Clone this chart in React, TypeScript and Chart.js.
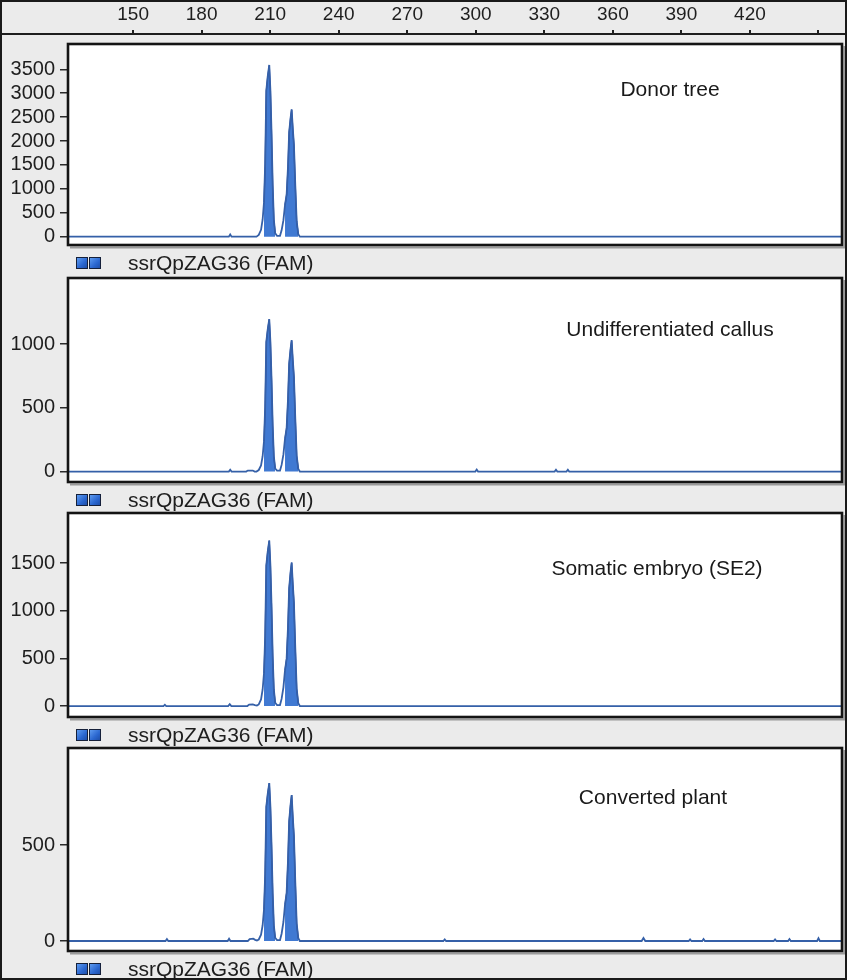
import React, { useEffect, useRef } from "react";
import { Chart, registerables } from "chart.js";

Chart.register(...registerables);

// ---------- data ----------
const markerName = "ssrQpZAG36 (FAM)";
const sizeTicks = [150, 180, 210, 240, 270, 300, 330, 360, 390, 420, 450];
const sizeTickLabels = ["150", "180", "210", "240", "270", "300", "330", "360", "390", "420", ""];
const sampleNames = ["Donor tree", "Undifferentiated callus", "Somatic embryo (SE2)", "Converted plant"];

const donorTicks = [0, 500, 1000, 1500, 2000, 2500, 3000, 3500];
const callusTicks = [0, 500, 1000];
const embryoTicks = [0, 500, 1000, 1500];
const plantTicks = [0, 500];

// called allele peak regions (size, bp)
const peakCores: [number, number][] = [
  [207.3, 212.2],
  [216.5, 222.3],
];

// [size (bp), RFU]
const donorTrace: [number, number][] = [
  [121.5, 0], [191.9, 0], [192.5, 45], [193.1, 0], [204.0, 0], [205.0, 36], [206.0, 144], [206.7, 359],
  [207.3, 718], [207.8, 1508], [208.3, 3052], [208.9, 3340], [209.6, 3590], [210.1, 3050], [210.6, 2154],
  [211.1, 1077], [211.6, 359], [212.2, 72], [213.0, 18], [214.3, 18], [215.0, 133], [215.8, 346], [216.5, 665],
  [217.2, 878], [217.8, 1463], [218.3, 2181], [218.9, 2470], [219.4, 2660], [219.9, 2260], [220.4, 1915],
  [221.0, 1064], [221.6, 319], [222.3, 53], [223.0, 0], [460.3, 0],
];

const callusTrace: [number, number][] = [
  [121.5, 0], [191.9, 0], [192.5, 14], [193.1, 0], [199.5, 0], [200.2, 8], [202.4, 8], [203.2, 0], [204.0, 0],
  [205.0, 12], [206.0, 48], [206.7, 120], [207.3, 239], [207.8, 502], [208.3, 1016], [208.9, 1111], [209.6, 1195],
  [210.1, 1016], [210.6, 717], [211.1, 359], [211.6, 120], [212.2, 24], [213.0, 8], [214.3, 8], [215.0, 52],
  [215.8, 134], [216.5, 258], [217.2, 340], [217.8, 567], [218.3, 845], [218.9, 958], [219.4, 1030], [219.9, 876],
  [220.4, 742], [221.0, 412], [221.6, 124], [222.3, 21], [223.0, 0], [299.8, 0], [300.4, 16], [301.0, 0],
  [334.5, 0], [335.1, 14], [335.7, 0], [339.7, 0], [340.3, 14], [340.9, 0], [460.3, 0],
];

const embryoTrace: [number, number][] = [
  [121.5, 0], [163.3, 0], [163.9, 14], [164.5, 0], [191.6, 0], [192.3, 20], [193.0, 0], [200.0, 0], [200.8, 15],
  [202.4, 18], [203.3, 10], [204.2, 5], [205.0, 17], [206.0, 69], [206.7, 174], [207.3, 347], [207.8, 729],
  [208.3, 1475], [208.9, 1614], [209.6, 1735], [210.1, 1475], [210.6, 1041], [211.1, 521], [211.6, 174],
  [212.2, 35], [213.0, 10], [214.3, 10], [215.0, 75], [215.8, 196], [216.5, 376], [217.2, 497], [217.8, 828],
  [218.3, 1234], [218.9, 1400], [219.4, 1505], [219.9, 1279], [220.4, 1084], [221.0, 602], [221.6, 181],
  [222.3, 30], [223.0, 0], [460.3, 0],
];

const plantTrace: [number, number][] = [
  [121.5, 0], [164.2, 0], [164.8, 10], [165.4, 0], [191.4, 0], [192.0, 12], [192.6, 0], [200.2, 0], [201.0, 10],
  [202.6, 12], [203.4, 6], [204.2, 3], [205.0, 8], [206.0, 33], [206.7, 82], [207.3, 164], [207.8, 345],
  [208.3, 699], [208.9, 764], [209.6, 822], [210.1, 699], [210.6, 493], [211.1, 247], [211.6, 82], [212.2, 16],
  [213.0, 5], [214.3, 5], [215.0, 38], [215.8, 99], [216.5, 190], [217.2, 251], [217.8, 418], [218.3, 623],
  [218.9, 707], [219.4, 760], [219.9, 646], [220.4, 547], [221.0, 304], [221.6, 91], [222.3, 15], [223.0, 0],
  [285.8, 0], [286.4, 8], [287.0, 0], [372.6, 0], [373.4, 16], [374.2, 0], [393.2, 0], [393.8, 8], [394.4, 0],
  [399.1, 0], [399.7, 10], [400.3, 0], [430.4, 0], [431.0, 8], [431.6, 0], [436.7, 0], [437.3, 10], [437.9, 0],
  [449.4, 0], [450.0, 14], [450.6, 0], [460.3, 0],
];

// ---------- layout / style ----------
const FONT = "'Liberation Sans', Arial, Helvetica, sans-serif";
const W = 847;
const H = 980;
const X_MIN = 121.5;
const X_MAX = 460.3;
const PLOT_LEFT = 68;
const PLOT_RIGHT = 842;
const PAD = 20;

type PanelDef = {
  name: string;
  trace: [number, number][];
  ticks: number[];
  top: number;
  bottom: number;
  yMin: number;
  yMax: number;
  labelX: number;
  labelY: number;
};

const panels: PanelDef[] = [
  { name: sampleNames[0], trace: donorTrace, ticks: donorTicks, top: 44, bottom: 245, yMin: -174, yMax: 4029, labelX: 670, labelY: 90 },
  { name: sampleNames[1], trace: callusTrace, ticks: callusTicks, top: 278, bottom: 482, yMin: -82, yMax: 1518, labelX: 670, labelY: 330 },
  { name: sampleNames[2], trace: embryoTrace, ticks: embryoTicks, top: 513, bottom: 717, yMin: -115, yMax: 2025, labelX: 657, labelY: 569 },
  { name: sampleNames[3], trace: plantTrace, ticks: plantTicks, top: 748, bottom: 951, yMin: -52, yMax: 1005, labelX: 653, labelY: 798 },
];

const framePlugin = {
  id: "frame",
  beforeDatasetsDraw(chart: any) {
    const { ctx, chartArea: a } = chart;
    ctx.save();
    ctx.fillStyle = "#ffffff";
    ctx.fillRect(a.left, a.top, a.right - a.left, a.bottom - a.top);
    ctx.restore();
  },
  afterDraw(chart: any) {
    const { ctx, chartArea: a } = chart;
    const opts = chart.options.plugins.frame || {};
    ctx.save();
    ctx.strokeStyle = "#9a9a9a";
    ctx.lineWidth = 2;
    ctx.beginPath();
    ctx.moveTo(a.right + 2.5, a.top + 2);
    ctx.lineTo(a.right + 2.5, a.bottom + 2.5);
    ctx.lineTo(a.left + 2, a.bottom + 2.5);
    ctx.stroke();
    ctx.strokeStyle = "#141414";
    ctx.lineWidth = 2.6;
    ctx.strokeRect(a.left, a.top, a.right - a.left, a.bottom - a.top);
    if (opts.text) {
      ctx.fillStyle = "#1a1a1a";
      ctx.font = `21px ${FONT}`;
      ctx.textAlign = "center";
      ctx.textBaseline = "middle";
      ctx.fillText(opts.text, opts.x, opts.y);
    }
    ctx.restore();
  },
};

function Panel({ p }: { p: PanelDef }) {
  const ref = useRef<HTMLCanvasElement>(null);
  const canvasTop = p.top - PAD;
  const canvasH = p.bottom - p.top + 2 * PAD;
  useEffect(() => {
    if (!ref.current) return;
    const inCore = (x: number) => peakCores.some(([a, b]) => x >= a && x <= b);
    const line = p.trace.map(([x, y]) => ({ x, y }));
    const core = p.trace.map(([x, y]) => ({ x, y: inCore(x) ? y : null }));
    const chart = new Chart(ref.current, {
      type: "line",
      data: {
        datasets: [
          {
            data: line as any,
            borderColor: "#3560a8",
            borderWidth: 1.8,
            pointRadius: 0,
            fill: false,
            tension: 0,
            order: 1,
          },
          {
            data: core as any,
            borderColor: "#1f3e9e",
            borderWidth: 1.2,
            backgroundColor: "#4079d2",
            fill: "origin",
            pointRadius: 0,
            tension: 0,
            spanGaps: false,
            order: 2,
          },
        ],
      },
      options: {
        animation: false,
        responsive: false,
        maintainAspectRatio: false,
        events: [],
        layout: { padding: { top: PAD, bottom: PAD, left: 0, right: W - PLOT_RIGHT } },
        plugins: {
          legend: { display: false },
          tooltip: { enabled: false },
          frame: { text: p.name, x: p.labelX, y: p.labelY - canvasTop },
        } as any,
        scales: {
          x: { type: "linear", min: X_MIN, max: X_MAX, display: false },
          y: {
            type: "linear",
            min: p.yMin,
            max: p.yMax,
            afterFit: (s: any) => {
              s.width = PLOT_LEFT;
            },
            afterBuildTicks: (s: any) => {
              s.ticks = p.ticks.map((v) => ({ value: v }));
            },
            ticks: {
              font: { family: FONT, size: 20 },
              color: "#1e1e1e",
              padding: 5,
              callback: (v: any) => String(v),
            },
            grid: { drawOnChartArea: false, tickLength: 8, color: "#2a2a2a", lineWidth: 1.5 },
            border: { display: false },
          },
        },
      },
      plugins: [framePlugin],
    });
    return () => chart.destroy();
  }, []);
  return (
    <canvas
      ref={ref}
      width={W}
      height={canvasH}
      style={{ position: "absolute", left: 0, top: canvasTop, width: W, height: canvasH }}
    />
  );
}

function TopAxis() {
  const ref = useRef<HTMLCanvasElement>(null);
  useEffect(() => {
    if (!ref.current) return;
    const chart = new Chart(ref.current, {
      type: "line",
      data: { datasets: [{ data: [] }] },
      options: {
        animation: false,
        responsive: false,
        maintainAspectRatio: false,
        events: [],
        layout: { padding: { top: 0, bottom: 0, left: PLOT_LEFT, right: W - PLOT_RIGHT } },
        plugins: { legend: { display: false }, tooltip: { enabled: false } },
        scales: {
          x: {
            type: "linear",
            position: "top",
            min: X_MIN,
            max: X_MAX,
            afterFit: (s: any) => {
              s.height = 34;
            },
            afterBuildTicks: (s: any) => {
              s.ticks = sizeTicks.map((v) => ({ value: v }));
            },
            ticks: {
              font: { family: FONT, size: 19 },
              color: "#1e1e1e",
              padding: 4,
              maxRotation: 0,
              autoSkip: false,
              callback: (_v: any, i: number) => sizeTickLabels[i],
            },
            grid: { drawOnChartArea: false, tickLength: 4, color: "#1e1e1e", lineWidth: 2 },
            border: { display: false },
          },
          y: { display: false },
        },
      },
    });
    return () => chart.destroy();
  }, []);
  return (
    <canvas ref={ref} width={W} height={44} style={{ position: "absolute", left: 0, top: 0, width: W, height: 44 }} />
  );
}

function Square({ left, top }: { left: number; top: number }) {
  return (
    <div
      style={{
        position: "absolute",
        left,
        top,
        width: 12,
        height: 12,
        boxSizing: "border-box",
        border: "1.5px solid #15203a",
        background: "linear-gradient(135deg, #5d9bf0 0%, #2a66cf 60%, #1f4fa8 100%)",
      }}
    />
  );
}

export default function App() {
  useEffect(() => {
    document.body.style.margin = "0";
  }, []);
  return (
    <div
      style={{
        position: "absolute",
        left: 0,
        top: 0,
        width: W,
        height: H,
        background: "#ebebeb",
        boxSizing: "border-box",
        border: "2px solid #1a1a1a",
        overflow: "hidden",
        fontFamily: FONT,
      }}
    >
      <div style={{ position: "absolute", left: 0, top: 0, width: W, height: H, marginLeft: -2, marginTop: -2 }}>
        <div style={{ position: "absolute", left: 0, top: 33, width: W, height: 2, background: "#1e1e1e" }} />
        <TopAxis />
        {panels.map((p, i) => {
          const cy = p.bottom + 18;
          return (
            <React.Fragment key={i}>
              <Panel p={p} />
              <Square left={76} top={cy - 6} />
              <Square left={89} top={cy - 6} />
              <div
                style={{
                  position: "absolute",
                  left: 128,
                  top: cy - 12,
                  height: 24,
                  lineHeight: "24px",
                  fontSize: 21,
                  color: "#1e1e1e",
                  whiteSpace: "nowrap",
                }}
              >
                {markerName}
              </div>
            </React.Fragment>
          );
        })}
      </div>
    </div>
  );
}
